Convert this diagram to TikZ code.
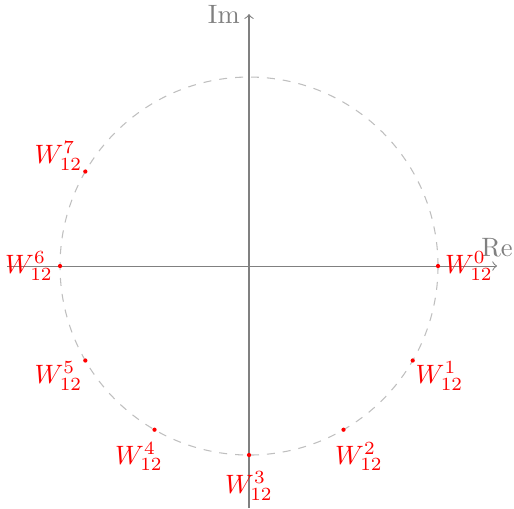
\documentclass[tikz,border=0pt]{standalone}
\begin{document}
\begin{tikzpicture}[
  axis/.style={draw=gray, ->},
  unitcirc/.style={draw=gray!50, dashed},
  rootpt/.style={circle, fill=red, inner sep=0pt, minimum size=1.6pt},
  rootlbl/.style={text=red, inner sep=0pt},
  axlbl/.style={text=gray}]
\useasboundingbox (-3.294,-3.201) rectangle (3.505,3.519);
\coordinate (xl) at (-3.201,0);
\coordinate (xr) at (3.281,0);
\coordinate (yb) at (0,-3.201);
\coordinate (yt) at (0,3.333);
\draw[axis] (xl) -- (xr);
\draw[axis] (yb) -- (yt);
\node[axlbl, anchor=south] (re) at (xr) {Re};
\node[axlbl, anchor=east] (im) at (yt) {Im};
\draw[unitcirc] (0,0) circle (2.5);
\foreach \k in {0,...,7} {
  \node[rootpt] (w\k) at ({-30*\k}:2.5) {};
  \node[rootlbl] (l\k) at ({-30*\k}:2.91) {$W_{12}^{\k}$};
}
\end{tikzpicture}
\end{document}
